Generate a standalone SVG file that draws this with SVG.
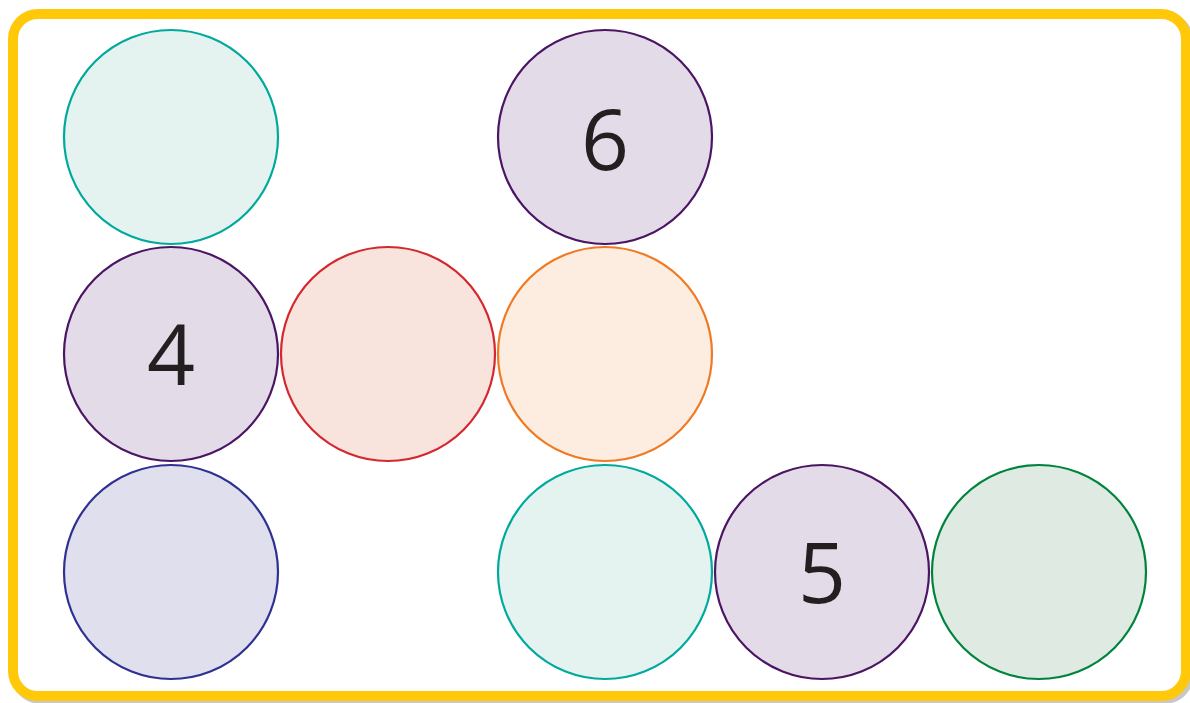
<svg xmlns="http://www.w3.org/2000/svg" width="1190" height="703" viewBox="0 0 1190 703">
<style>
.c{stroke-width:2.2}
.teal{stroke:#00a99d;fill:#e4f3f0}
.purple{stroke:#4b1563;fill:#e3dbe8}
.red{stroke:#d4282e;fill:#f8e4dd}
.orange{stroke:#f07a23;fill:#fdede0}
.blue{stroke:#2e3192;fill:#e0dfee}
.green{stroke:#00843d;fill:#dfeae2}
.t{font-family:"Open Sans","DejaVu Sans",sans-serif;font-size:84px;fill:#231f20;text-anchor:middle}
</style>
<rect x="0" y="0" width="1190" height="703" fill="#ffffff"/>
<rect x="16" y="17" width="1173" height="682" rx="25" fill="none" stroke="#c8c8c8" stroke-width="10"/>
<rect x="13" y="14" width="1173" height="682" rx="25" fill="#ffffff" stroke="#ffc90a" stroke-width="10"/>
<g id="n1"><circle class="c teal" cx="171" cy="137" r="107"/></g>
<g id="n2"><circle class="c purple" cx="605" cy="137" r="107"/><text class="t" x="605" y="170">6</text></g>
<g id="n3"><circle class="c purple" cx="171" cy="354" r="107"/><text class="t" x="171" y="385">4</text></g>
<g id="n4"><circle class="c red" cx="388" cy="354" r="107"/></g>
<g id="n5"><circle class="c orange" cx="605" cy="354" r="107"/></g>
<g id="n6"><circle class="c blue" cx="171" cy="572" r="107"/></g>
<g id="n7"><circle class="c teal" cx="605" cy="572" r="107"/></g>
<g id="n8"><circle class="c purple" cx="822" cy="572" r="107"/><text class="t" x="822" y="603">5</text></g>
<g id="n9"><circle class="c green" cx="1039" cy="572" r="107"/></g>
<g id="connectors"></g>
</svg>
